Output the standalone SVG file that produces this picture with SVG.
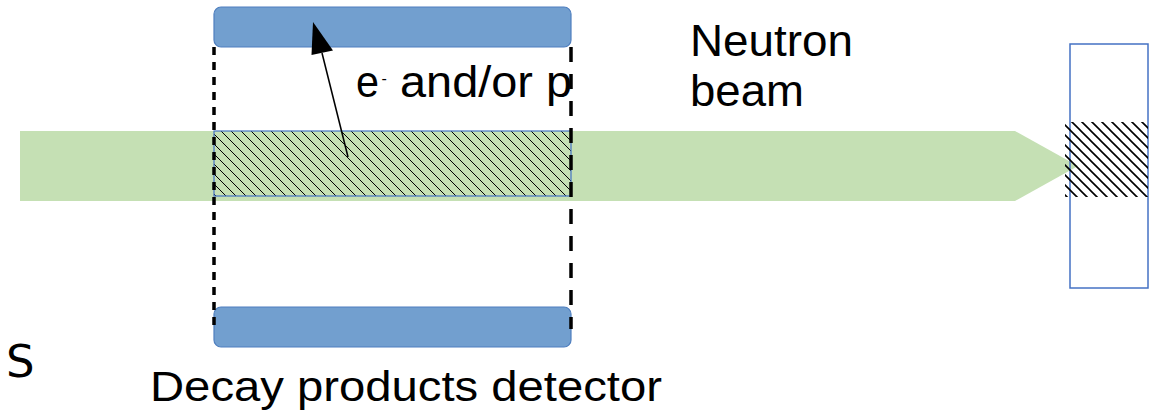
<svg xmlns="http://www.w3.org/2000/svg" width="1163" height="416" viewBox="0 0 1163 416">
  <defs>
    <pattern id="hatch" patternUnits="userSpaceOnUse" width="10" height="10">
      <path d="M-1,-1 L11,11 M-1,9 L1,11 M9,-1 L11,1" stroke="#000" stroke-width="1"/>
    </pattern>
    <pattern id="hatchBold" patternUnits="userSpaceOnUse" width="10" height="10">
      <path d="M-1,-1 L11,11 M-1,9 L1,11 M9,-1 L11,1" stroke="#000" stroke-width="1.6"/>
    </pattern>
  </defs>
  <style>
    .detector { fill: #729fcf; stroke: #4f7fbf; stroke-width: 1.2; }
    .label { font-family: "Liberation Sans", Arial, sans-serif; fill: #000; }
    .dash { stroke: #000; fill: none; }
  </style>

  <rect width="1163" height="416" fill="#fff"/>

  <!-- neutron beam -->
  <g id="beam">
    <polygon points="20,131 1015,131 1078,166 1015,201 20,201" fill="#c5e0b4"/>
  </g>

  <!-- decay volume inside the beam -->
  <g id="decay-volume">
    <rect x="214" y="131" width="357" height="65" fill="url(#hatch)" stroke="#4472c4" stroke-width="1.2"/>
  </g>

  <!-- beam stop -->
  <g id="beam-stop">
    <rect x="1070" y="44" width="78" height="244" fill="none" stroke="#4472c4" stroke-width="1.5"/>
    <rect x="1065" y="122" width="83" height="75" fill="url(#hatchBold)"/>
  </g>

  <!-- decay products detectors -->
  <g id="detector-top">
    <rect class="detector" x="214" y="7" width="357" height="40" rx="7"/>
  </g>
  <g id="detector-bottom">
    <rect class="detector" x="214" y="307" width="357" height="40" rx="7"/>
  </g>

  <!-- labels -->
  <g id="label-particles">
    <text class="label" x="356" y="97" font-size="44" textLength="23" lengthAdjust="spacingAndGlyphs">e</text>
    <text class="label" x="381.5" y="83.5" font-size="16">-</text>
    <text class="label" x="400" y="97" font-size="44" textLength="172" lengthAdjust="spacingAndGlyphs">and/or p</text>
  </g>
  <g id="label-beam">
    <text class="label" x="690" y="56" font-size="44" textLength="163" lengthAdjust="spacingAndGlyphs">Neutron</text>
    <text class="label" x="690" y="106" font-size="44" textLength="114" lengthAdjust="spacingAndGlyphs">beam</text>
  </g>
  <g id="label-detector">
    <text class="label" x="150" y="401" font-size="42" textLength="512" lengthAdjust="spacingAndGlyphs">Decay products detector</text>
  </g>
  <g id="label-s">
    <text x="6" y="377" font-size="45" font-family="'DejaVu Sans', sans-serif" fill="#000">S</text>
  </g>

  <!-- connectors -->
  <g id="connectors">
    <line class="dash" x1="214" y1="47" x2="214" y2="329" stroke-width="3.5" stroke-dasharray="8 7"/>
    <line class="dash" x1="571" y1="47" x2="571" y2="329" stroke-width="3.5" stroke-dasharray="15 12"/>
    <line x1="348" y1="157" x2="322" y2="53" stroke="#000" stroke-width="1.5"/>
    <polygon points="313,22 311.5,55 333,50.5" fill="#000"/>
  </g>
</svg>
